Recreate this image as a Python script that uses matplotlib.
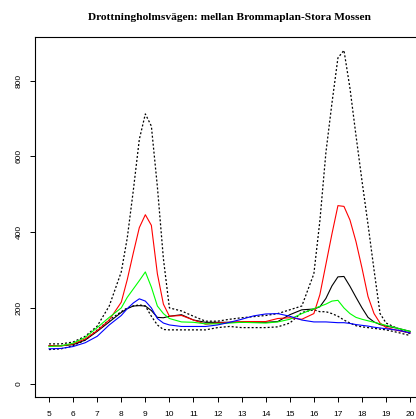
import matplotlib
matplotlib.use("Agg")
import matplotlib.pyplot as plt

# time of day (hours) and flows for each series
hours = [5, 5.5, 6, 6.5, 7, 7.5, 8, 8.25, 8.5, 8.75, 9, 9.25, 9.5, 9.75, 10,
         10.5, 11, 11.5, 12, 12.5, 13, 13.5, 14, 14.5, 15, 15.5, 16,
         16.25, 16.5, 16.75, 17, 17.25, 17.5, 17.75, 18, 18.25, 18.5, 18.75,
         19, 19.5, 20]

upper = [105, 105, 110, 125, 152, 205, 295, 385, 510, 645, 712, 680, 520, 330, 200,
         192, 178, 165, 165, 170, 174, 177, 180, 185, 195, 205, 290,
         430, 610, 740, 860, 880, 780, 655, 535, 420, 300, 185,
         160, 145, 132]

red = [100, 100, 105, 118, 140, 168, 215, 275, 345, 412, 446, 418, 290, 210, 178,
       180, 168, 157, 160, 162, 164, 164, 164, 172, 174, 170, 185,
       235, 315, 395, 470, 468, 432, 375, 305, 230, 185, 160,
       148, 140, 134]

green = [98, 100, 107, 122, 148, 175, 200, 228, 250, 272, 295, 255, 205, 185, 172,
         163, 162, 158, 158, 160, 162, 161, 160, 163, 170, 185, 198,
         204, 210, 218, 220, 200, 185, 175, 170, 166, 162, 158,
         154, 146, 138]

blue = [92, 93, 98, 108, 125, 155, 180, 198, 213, 224, 218, 200, 172, 160, 155,
        151, 151, 151, 155, 162, 170, 179, 184, 185, 178, 168, 163,
        163, 163, 162, 161, 161, 159, 156, 154, 152, 149, 147,
        145, 141, 134]

black = [100, 100, 103, 115, 138, 163, 188, 198, 205, 206, 205, 193, 175, 174, 178,
         182, 168, 162, 162, 162, 162, 162, 162, 164, 182, 195, 197,
         203, 225, 258, 282, 283, 257, 228, 200, 175, 163, 156,
         152, 146, 138]

lower = [90, 92, 100, 115, 142, 168, 190, 200, 205, 208, 205, 178, 155, 143, 142,
         142, 142, 142, 148, 151, 148, 148, 148, 150, 160, 188, 195,
         190, 190, 185, 178, 168, 160, 153, 150, 148, 146, 144,
         142, 135, 127]

xticks = list(range(5, 21))
yticks = [0, 200, 400, 600, 800]

W, H = 416, 419
fig = plt.figure(figsize=(W / 100, H / 100), dpi=100)
ax = fig.add_axes([34.6 / W, 1 - 397 / H, 390 / W, 360 / H])

dot = (0, (1.6, 1.6))
ax.plot(hours, upper, color="black", lw=0.9, ls=dot)
ax.plot(hours, lower, color="black", lw=0.9, ls=dot)
ax.plot(hours, black, color="black", lw=0.8)
ax.plot(hours, red, color="#ff0000", lw=0.8)
ax.plot(hours, green, color="#00ff00", lw=0.8)
ax.plot(hours, blue, color="#0000ff", lw=0.8)

ax.set_xlim(4.4, 20.6)
ax.set_ylim(-35.2, 915.2)
ax.set_xticks(xticks)
ax.set_yticks(yticks)
ax.tick_params(direction="out", length=3.8, width=0.7, labelsize=6)
ax.tick_params(axis="x", pad=6.5)
ax.tick_params(axis="y", pad=4.8)
ax.set_xticklabels([str(t) for t in xticks], family="Liberation Sans")
ax.set_yticklabels([str(t) for t in yticks], family="Liberation Sans",
                   rotation=90, va="center")
for s in ax.spines.values():
    s.set_linewidth(0.8)

fig.text(229.6 / W, 1 - 17 / H, "Drottningholmsvägen: mellan Brommaplan-Stora Mossen",
         ha="center", va="center", family="Liberation Serif",
         weight="bold", fontsize=8.2)

fig.savefig("out.png", dpi=100)
